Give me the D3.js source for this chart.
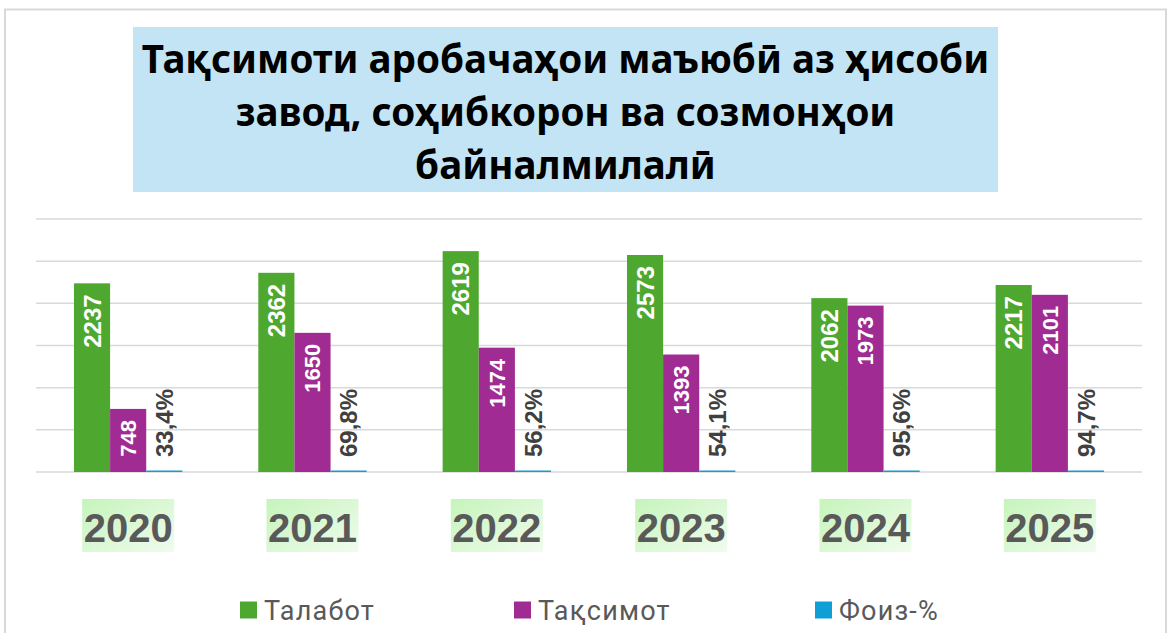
<!DOCTYPE html>
<html>
<head>
<meta charset="utf-8">
<script src="https://cdn.jsdelivr.net/npm/d3@7"></script>
<style>
  body { margin: 0; background: #fff; }
  svg { display: block; }
</style>
</head>
<body>
<div id="chart"></div>
<script>
// chart data
const years = ['2020', '2021', '2022', '2023', '2024', '2025'];
const demand = [2237, 2362, 2619, 2573, 2062, 2217];      // Талабот
const supplied = [748, 1650, 1474, 1393, 1973, 2101];     // Тақсимот
const share = [0.334, 0.698, 0.562, 0.541, 0.956, 0.947]; // Фоиз-%
const seriesNames = ['Талабот', 'Тақсимот', 'Фоиз-%'];
const titleLines = ['Тақсимоти аробачаҳои маъюбӣ аз ҳисоби', 'завод, соҳибкорон ва созмонҳои', 'байналмилалӣ'];
const yTicks = [0, 500, 1000, 1500, 2000, 2500, 3000];

const colors = ['#4ea72e', '#a02b93', '#0f9ed5'];
const W = 1171, H = 633;
const margin = {top: 219, right: 29, bottom: 161, left: 36};

const svg = d3.select('#chart').append('svg')
    .attr('width', W)
    .attr('height', H);

// outer frame
svg.append('rect')
    .attr('x', 5).attr('y', 9.5)
    .attr('width', W - 10).attr('height', H)
    .attr('fill', '#fff')
    .attr('stroke', '#d9d9d9')
    .attr('stroke-width', 2);

// title box
svg.append('rect')
    .attr('x', 133).attr('y', 27)
    .attr('width', 865).attr('height', 165)
    .attr('fill', '#c2e4f4');

svg.append('g')
    .selectAll('text')
    .data(titleLines)
    .enter().append('text')
    .attr('x', 565.5)
    .attr('y', (d, i) => 73 + i * 53)
    .attr('text-anchor', 'middle')
    .attr('font-family', '"Noto Sans", "Open Sans", sans-serif')
    .attr('font-weight', 700)
    .attr('font-size', 38.6)
    .attr('fill', '#000')
    .text(d => d);

// scales
const x = d3.scaleBand()
    .domain(years)
    .range([margin.left, W - margin.right])
    .paddingInner(0.412)
    .paddingOuter(0.206);

const xs = d3.scaleBand()
    .domain(seriesNames)
    .range([0, x.bandwidth()]);

const y = d3.scaleLinear()
    .domain([0, 3000])
    .range([H - margin.bottom, margin.top]);

// gridlines
svg.append('g')
    .selectAll('line')
    .data(yTicks)
    .enter().append('line')
    .attr('x1', margin.left)
    .attr('x2', W - margin.right)
    .attr('y1', d => y(d))
    .attr('y2', d => y(d))
    .attr('stroke', '#d9d9d9')
    .attr('stroke-width', 1.5);

const rows = years.map((yr, i) => ({
  year: yr,
  values: [demand[i], supplied[i], share[i]]
}));

const groups = svg.append('g')
    .selectAll('g')
    .data(rows)
    .enter().append('g')
    .attr('transform', d => `translate(${x(d.year)},0)`);

// bars
groups.selectAll('rect')
    .data(d => d.values.map((v, k) => ({k, v})))
    .enter().append('rect')
    .attr('x', d => xs(seriesNames[d.k]))
    .attr('width', xs.bandwidth())
    .attr('y', d => Math.min(y(d.v), y(0) - 1.5))
    .attr('height', d => Math.max(y(0) - y(d.v), 1.5))
    .attr('fill', d => colors[d.k]);

// value labels inside the bars
const labelFont = '"Liberation Sans", Arial, sans-serif';
groups.selectAll('.bar-label')
    .data(d => d.values.slice(0, 2).map((v, k) => ({k, v})))
    .enter().append('text')
    .attr('class', 'bar-label')
    .attr('transform', d => `translate(${xs(seriesNames[d.k]) + xs.bandwidth() / 2},${y(d.v) + 11}) rotate(-90)`)
    .attr('dy', '0.36em')
    .attr('text-anchor', 'end')
    .attr('font-family', labelFont)
    .attr('font-weight', 700)
    .attr('font-size', d => d.k === 0 ? 24 : 22)
    .attr('fill', '#fff')
    .text(d => d.v);

// percent labels
groups.append('text')
    .attr('transform', `translate(${xs(seriesNames[2]) + xs.bandwidth() / 2},${y(0) - 15}) rotate(-90)`)
    .attr('dy', '0.36em')
    .attr('text-anchor', 'start')
    .attr('font-family', labelFont)
    .attr('font-weight', 700)
    .attr('font-size', 24)
    .attr('fill', '#404040')
    .text(d => (d.values[2] * 100).toFixed(1).replace('.', ',') + '%');

// year labels with green gradient boxes
const grad = svg.append('defs').append('linearGradient')
    .attr('id', 'year-grad')
    .attr('x1', '0%').attr('y1', '0%')
    .attr('x2', '100%').attr('y2', '100%');
grad.append('stop').attr('offset', '0%').attr('stop-color', '#c5f4ba');
grad.append('stop').attr('offset', '100%').attr('stop-color', '#f0fcee');

const yearLabels = svg.append('g')
    .selectAll('g')
    .data(years)
    .enter().append('g')
    .attr('transform', d => `translate(${x(d) + x.bandwidth() / 2},0)`);

yearLabels.append('rect')
    .attr('x', -46).attr('y', 499)
    .attr('width', 92).attr('height', 53)
    .attr('fill', 'url(#year-grad)');

yearLabels.append('text')
    .attr('y', 542)
    .attr('text-anchor', 'middle')
    .attr('font-family', labelFont)
    .attr('font-weight', 700)
    .attr('font-size', 40)
    .attr('fill', '#595959')
    .text(d => d);

// legend
const legendX = [240, 514, 815];
const legend = svg.append('g')
    .selectAll('g')
    .data(seriesNames)
    .enter().append('g')
    .attr('transform', (d, i) => `translate(${legendX[i]},601.5)`);

legend.append('rect')
    .attr('width', 17).attr('height', 17)
    .attr('fill', (d, i) => colors[i]);

legend.append('text')
    .attr('x', 24)
    .attr('y', 18.5)
    .attr('font-family', 'Roboto, sans-serif')
    .attr('font-size', 27)
    .attr('letter-spacing', 1.2)
    .attr('fill', '#595959')
    .text(d => d);
</script>
</body>
</html>
